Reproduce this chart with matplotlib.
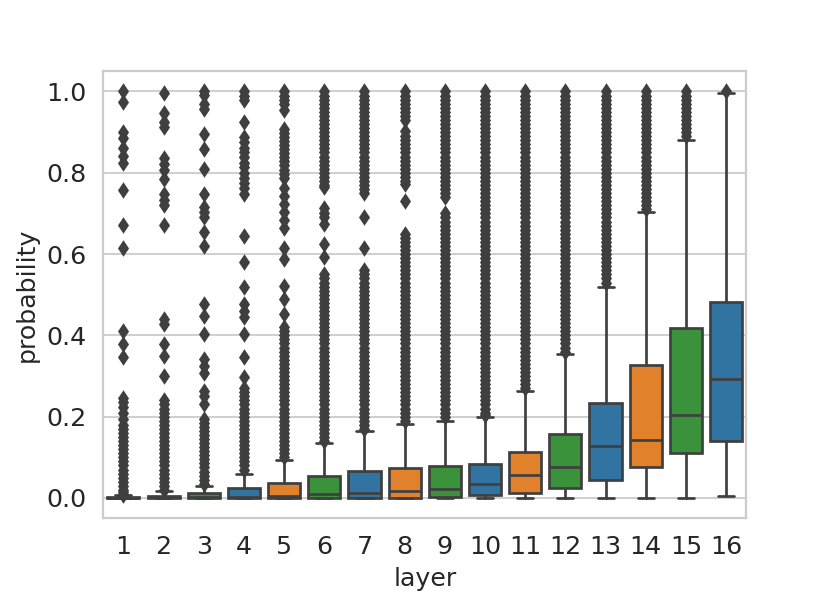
import matplotlib
matplotlib.use("Agg")
import matplotlib.pyplot as plt
import seaborn as sns

sns.set_theme(style="whitegrid")
plt.rcParams["font.family"] = ["DejaVu Sans"]
plt.rcParams["font.size"] = 14
plt.rcParams["axes.labelsize"] = 14
plt.rcParams["xtick.labelsize"] = 14
plt.rcParams["ytick.labelsize"] = 14

# categories
layers = ["1", "2", "3", "4", "5", "6", "7", "8", "9", "10", "11", "12", "13", "14", "15", "16"]

# box statistics (probability)
q1 = [0.0, 0.0, 0.0, 0.0, 0.0, 0.0, 0.0, 0.001, 0.002, 0.007, 0.013, 0.025, 0.044, 0.076, 0.110, 0.140]
medians = [0.001, 0.002, 0.002, 0.003, 0.004, 0.009, 0.012, 0.016, 0.023, 0.035, 0.057, 0.077, 0.127, 0.143, 0.205, 0.292]
q3 = [0.003, 0.005, 0.011, 0.024, 0.036, 0.054, 0.066, 0.074, 0.078, 0.083, 0.114, 0.157, 0.234, 0.328, 0.418, 0.483]
whis_lo = [0.0, 0.0, 0.0, 0.0, 0.0, 0.0, 0.0, 0.0, 0.0, 0.0, 0.0, 0.0, 0.0, 0.0, 0.0, 0.005]
whis_hi = [0.007, 0.016, 0.030, 0.058, 0.093, 0.136, 0.164, 0.183, 0.190, 0.198, 0.262, 0.355, 0.520, 0.704, 0.881, 0.997]

# outliers per layer, in percent (dense bands are read as one value per hundredth)
fliers_1 = [100, 97.3, 90, 88.5, 86.2, 84.2, 82.4, 75.8, 67.1, 61.6, 41, 37.9, 34.6,
            24.5, 23.5, 22.5, 21, 19.5, 18, 17, 16, 15, 14, 13, 12, 11, 10, 9, 8, 7, 6, 5, 4, 3, 2, 1.5, 1, 0.8]
fliers_2 = [99.7, 94.6, 92.5, 91.3, 83.7, 82.2, 80.7, 78.5, 74.8, 73.3, 72.1, 67.2, 44, 42.8, 37.9, 35, 30,
            24, 23, 22, 21, 20, 19, 18, 17, 16, 15, 14, 13, 12, 11, 10, 9, 8, 7, 6, 5, 4, 3, 2]
fliers_3 = [100, 99.1, 97, 95.8, 89.6, 85.9, 81, 74.8, 71.6, 70.3, 69.1, 65.4, 62.1, 47.7, 44.8, 40.3,
            34.1, 32.5, 30.8, 26.4, 25, 23.1, 19.4, 18.5, 17.5, 16.5, 15.5, 14.5, 13.5, 12.5, 11.5,
            10.5, 9.5, 8.5, 7.5, 6.5, 5.5, 4.5, 3.5]
fliers_4 = [100, 99, 98, 92.5, 88.7, 87.5, 86.2, 85, 83.8, 82.5, 81.3, 80, 78.8, 77.5, 76.2, 74.7,
            64.5, 58, 52, 47.6, 46, 44.5, 40.4, 34.7, 29.7,
            27, 26, 25, 24, 23, 22, 21, 20, 19, 18, 17, 16, 15, 14, 13, 12, 11, 10, 9, 8, 7]
fliers_5 = [100, 99, 98, 97, 95.5, 90.8, 89.8, 88.8, 87.8, 86.8, 85.8, 84.8, 83.8, 82.8, 81.8, 80.8,
            79.8, 78.8, 76.3, 74.3, 72.3, 70.3, 68.5, 66.5, 61.6, 58.8, 52.2, 48.9, 45.2,
            42, 41, 40, 39, 38, 37, 36, 35, 34, 33, 32, 31, 30, 29, 28, 27, 26, 25, 24, 23, 22,
            21, 20, 19, 18, 17, 16, 15, 14, 13, 12, 11, 10]
fliers_6 = [100, 99, 98, 97, 96, 95, 94, 93, 92, 91, 90, 89, 88, 87, 86, 85, 84, 83, 82, 81, 80, 79,
            78, 77, 76.4, 71.4, 70, 69, 67.4, 62.5, 59.2,
            55, 54, 53, 52, 51, 50, 49, 48, 47, 46, 45, 44, 43, 42, 41, 40, 39, 38, 37, 36, 35, 34,
            33, 32, 31, 30, 29, 28, 27, 26, 25, 24, 23, 22, 21, 20, 19, 18, 17, 16, 15, 14]
fliers_7 = [100, 99, 98, 97, 96, 95, 94, 93, 92, 91, 90, 89, 88, 87, 86, 85, 84, 83, 82, 81, 80, 79,
            78, 77, 76, 75, 69, 61.6,
            56, 55, 54, 53, 52, 51, 50, 49, 48, 47, 46, 45, 44, 43, 42, 41, 40, 39, 38, 37, 36, 35,
            34, 33, 32, 31, 30, 29, 28, 27, 26, 25, 24, 23, 22, 21, 20, 19, 18, 17]
fliers_8 = [100, 99, 98, 97, 96, 95, 94, 93, 90.4, 89, 88, 87, 86, 85, 84, 83, 82, 81, 80, 79, 78, 77.2,
            73.1,
            65, 64, 63, 62, 61, 60, 59, 58, 57, 56, 55, 54, 53, 52, 51, 50, 49, 48, 47, 46, 45, 44,
            43, 42, 41, 40, 39, 38, 37, 36, 35, 34, 33, 32, 31, 30, 29, 28, 27, 26, 25, 24, 23, 22,
            21, 20, 19]
fliers_9 = [100, 99, 98, 97, 96, 95, 94, 93, 92, 91, 90, 89, 88, 87, 86, 85, 84, 83, 82, 81, 80, 79,
            78, 77, 76, 75, 74,
            70, 69, 68, 67, 66, 65, 64, 63, 62, 61, 60, 59, 58, 57, 56, 55, 54, 53, 52, 51, 50, 49,
            48, 47, 46, 45, 44, 43, 42, 41, 40, 39, 38, 37, 36, 35, 34, 33, 32, 31, 30, 29, 28, 27,
            26, 25, 24, 23, 22, 21, 20]
fliers_10 = [100, 99, 98, 97, 96, 95, 94, 93, 92, 91, 90, 89, 88, 87, 86, 85, 84, 83, 82, 81, 80, 79,
             78, 77, 76, 75, 74, 73, 72, 71, 70, 69, 68, 67, 66, 65, 64, 63, 62, 61, 60, 59, 58, 57,
             56, 55, 54, 53, 52, 51, 50, 49, 48, 47, 46, 45, 44, 43, 42, 41, 40, 39, 38, 37, 36, 35,
             34, 33, 32, 31, 30, 29, 28, 27, 26, 25, 24, 23, 22, 21, 20.5]
fliers_11 = [100, 99, 98, 97, 96, 95, 94, 93, 92, 91, 90, 89, 88, 87, 86, 85, 84, 83, 82, 81, 80, 79,
             78, 77, 76, 75, 74, 73, 72, 71, 70, 69, 68, 67, 66, 65, 64, 63, 62, 61, 60, 59, 58, 57,
             56, 55, 54, 53, 52, 51, 50, 49, 48, 47, 46, 45, 44, 43, 42, 41, 40, 39, 38, 37, 36, 35,
             34, 33, 32, 31, 30, 29, 28, 27]
fliers_12 = [100, 99, 98, 97, 96, 95, 94, 93, 92, 91, 90, 89, 88, 87, 86, 85, 84, 83, 82, 81, 80, 79,
             78, 77, 76, 75, 74, 73, 72, 71, 70, 69, 68, 67, 66, 65, 64, 63, 62, 61, 60, 59, 58, 57,
             56, 55, 54, 53, 52, 51, 50, 49, 48, 47, 46, 45, 44, 43, 42, 41, 40, 39, 38, 37, 36]
fliers_13 = [100, 99, 98, 97, 96, 95, 94, 93, 92, 91, 90, 89, 88, 87, 86, 85, 84, 83, 82, 81, 80, 79,
             78, 77, 76, 75, 74, 73, 72, 71, 70, 69, 68, 67, 66, 65, 64, 63, 62, 61, 60, 59, 58, 57,
             56, 55, 54, 53]
fliers_14 = [100, 99, 98, 97, 96, 95, 94, 93, 92, 91, 90, 89, 88, 87, 86, 85, 84, 83, 82, 81, 80, 79,
             78, 77, 76, 75, 74, 73, 72, 71]
fliers_15 = [100, 99, 98, 97, 96, 95, 94, 93, 92, 91, 90, 89]
fliers_16 = [100]

all_fliers = [fliers_1, fliers_2, fliers_3, fliers_4, fliers_5, fliers_6, fliers_7, fliers_8,
              fliers_9, fliers_10, fliers_11, fliers_12, fliers_13, fliers_14, fliers_15, fliers_16]

box_colors = ["#3274a1", "#e1812c", "#3a923a"]
gray = "#3f3f3f"

# build stats for bxp
stats = []
for i in range(len(layers)):
    stats.append({
        "med": medians[i],
        "q1": q1[i],
        "q3": q3[i],
        "whislo": whis_lo[i],
        "whishi": whis_hi[i],
        "fliers": [v / 100 for v in all_fliers[i]],
    })

fig, ax = plt.subplots(figsize=(830 / 130, 593 / 130), dpi=130)
fig.subplots_adjust(left=0.1245, right=0.899, top=0.880, bottom=0.126)

lw = 1.5
bp = ax.bxp(stats, positions=range(len(layers)), widths=0.8, patch_artist=True,
            boxprops=dict(edgecolor=gray, linewidth=lw),
            medianprops=dict(color=gray, linewidth=lw),
            whiskerprops=dict(color=gray, linewidth=lw),
            capprops=dict(color=gray, linewidth=lw),
            flierprops=dict(marker="d", markersize=5, markerfacecolor=gray,
                            markeredgecolor=gray, markeredgewidth=1.4, linestyle="none"))

# colours cycle through three hues
for i, box in enumerate(bp["boxes"]):
    box.set_facecolor(box_colors[i % 3])

ax.set_xticks(range(len(layers)))
ax.set_xticklabels(layers)
ax.set_xlim(-0.5, len(layers) - 0.5)
ax.set_ylim(-0.05, 1.05)
ax.set_yticks([0.0, 0.2, 0.4, 0.6, 0.8, 1.0])
ax.xaxis.grid(False)
ax.set_xlabel("layer")
ax.set_ylabel("probability")

fig.savefig("out.png", dpi=130)
